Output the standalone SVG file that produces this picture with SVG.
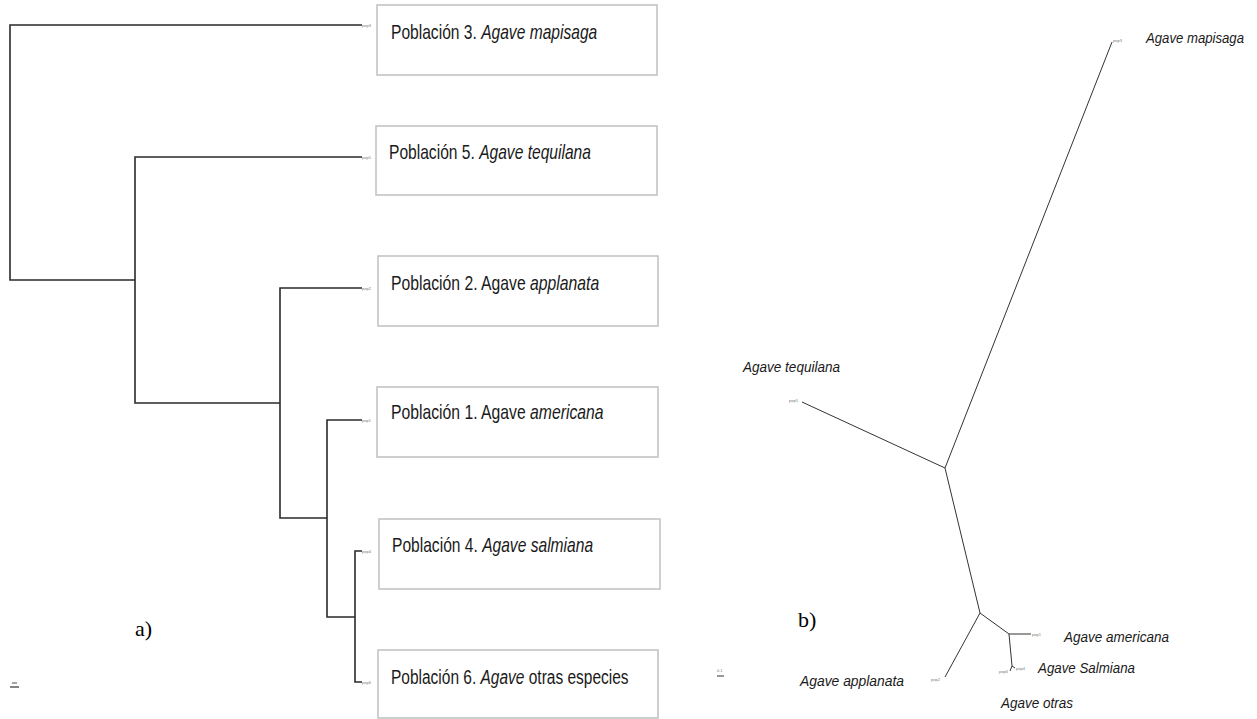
<svg xmlns="http://www.w3.org/2000/svg" width="1257" height="719" viewBox="0 0 1257 719">
<style>
.box{fill:#fff;stroke:#c4c4c4;stroke-width:1.6}
.lbl{font-family:"Liberation Sans",Arial,sans-serif;font-size:20px;fill:#1a1a1a}
.it{font-style:italic}
.tree{fill:none;stroke:#2a2a2a;stroke-width:1.6}
.utree{fill:none;stroke:#333;stroke-width:1}
.tip{font-family:"Liberation Sans",Arial,sans-serif;font-size:4px;fill:#777}
.sp{font-family:"Liberation Sans",Arial,sans-serif;font-size:14px;font-style:italic;fill:#1a1a1a}
.pl{font-family:"Liberation Serif","Times New Roman",serif;font-size:22px;fill:#000}
</style>
<rect width="1257" height="719" fill="#fff"/>
<g id="connectors">
<path class="tree" d="M362,25H10V280H135 M362,157H135V403H280 M362,288H280V518H327 M362,420H327V617H355 M362,551H355V682H362"/>
<path class="utree" d="M945,468L802,402 M945,468L1112,42 M945,468L980,613 M980,613L945,677 M980,613L1009,634 M1009,634H1031 M1009,634L1012,666 M1012,666L1015,668 M1012,666L1010,671"/>
</g>
<g id="tips-left">
<text class="tip" x="362" y="27">pop3</text>
<text class="tip" x="362" y="159">pop5</text>
<text class="tip" x="362" y="290">pop2</text>
<text class="tip" x="362" y="422">pop1</text>
<text class="tip" x="362" y="553">pop4</text>
<text class="tip" x="362" y="684">pop6</text>
</g>
<g id="node-pop3"><rect class="box" x="377" y="5" width="280" height="70"/>
<g transform="translate(391,39) scale(0.78,1)"><text class="lbl" x="0" y="0">Población 3. <tspan class="it">Agave mapisaga</tspan></text></g></g>
<g id="node-pop5"><rect class="box" x="376" y="126" width="281" height="69"/>
<g transform="translate(389,159) scale(0.78,1)"><text class="lbl" x="0" y="0">Población 5. <tspan class="it">Agave tequilana</tspan></text></g></g>
<g id="node-pop2"><rect class="box" x="378" y="256" width="280" height="70"/>
<g transform="translate(391,290) scale(0.787,1)"><text class="lbl" x="0" y="0">Población 2. Agave <tspan class="it">applanata</tspan></text></g></g>
<g id="node-pop1"><rect class="box" x="377" y="387" width="281" height="70"/>
<g transform="translate(391,419) scale(0.787,1)"><text class="lbl" x="0" y="0">Población 1. Agave <tspan class="it">americana</tspan></text></g></g>
<g id="node-pop4"><rect class="box" x="379" y="519" width="281" height="70"/>
<g transform="translate(392,552) scale(0.78,1)"><text class="lbl" x="0" y="0">Población 4. <tspan class="it">Agave salmiana</tspan></text></g></g>
<g id="node-pop6"><rect class="box" x="378" y="650" width="280" height="68"/>
<g transform="translate(391,684) scale(0.775,1)"><text class="lbl" x="0" y="0">Población 6. <tspan class="it">Agave</tspan> otras especies</text></g></g>
<text class="pl" x="135" y="636">a)</text>
<g id="scale-left"><line x1="10" y1="687" x2="19" y2="687" stroke="#333" stroke-width="1.2"/><line x1="12" y1="683" x2="17" y2="683" stroke="#888" stroke-width="1.5"/></g>
<g id="tips-right">
<text class="tip" x="789" y="402">pop5</text>
<text class="tip" x="1113" y="42">pop3</text>
<text class="tip" x="931" y="681">pop2</text>
<text class="tip" x="1032" y="636">pop1</text>
<text class="tip" x="1016" y="670">pop4</text>
<text class="tip" x="999" y="673">pop6</text>
</g>
<g id="label-mapisaga"><text class="sp" x="1146" y="43" textLength="98" lengthAdjust="spacingAndGlyphs">Agave mapisaga</text></g>
<g id="label-tequilana"><text class="sp" x="743" y="372" textLength="97" lengthAdjust="spacingAndGlyphs">Agave tequilana</text></g>
<g id="label-applanata"><text class="sp" x="800" y="686" textLength="104" lengthAdjust="spacingAndGlyphs">Agave applanata</text></g>
<g id="label-americana"><text class="sp" x="1064" y="642" textLength="105" lengthAdjust="spacingAndGlyphs">Agave americana</text></g>
<g id="label-salmiana"><text class="sp" x="1038" y="673" textLength="97" lengthAdjust="spacingAndGlyphs">Agave Salmiana</text></g>
<g id="label-otras"><text class="sp" x="1001" y="708" textLength="72" lengthAdjust="spacingAndGlyphs">Agave otras</text></g>
<text class="pl" x="798" y="627">b)</text>
<g id="scale-right"><line x1="717" y1="676" x2="724" y2="676" stroke="#333" stroke-width="1"/><text class="tip" x="717" y="672">0.1</text></g>
</svg>
